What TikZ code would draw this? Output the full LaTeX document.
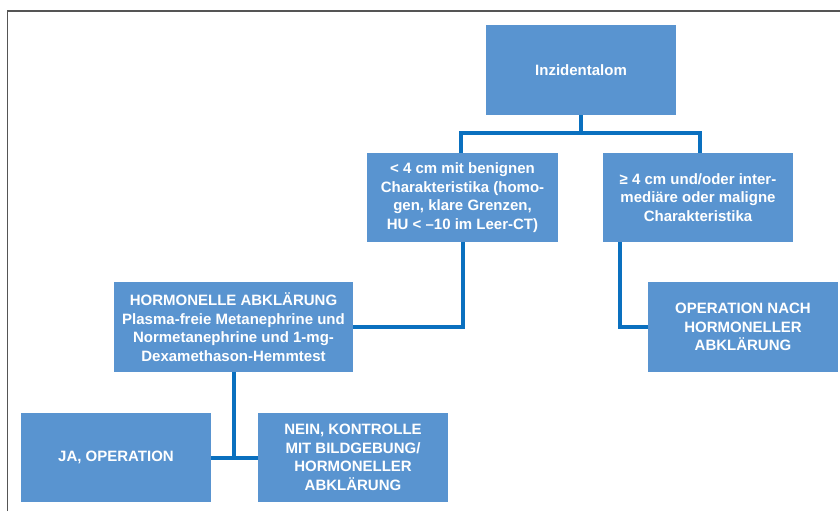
\documentclass[tikz,border=0pt]{standalone}
\usepackage{fontspec}
\setsansfont{Liberation Sans}
\definecolor{boxblue}{RGB}{89,148,208}
\definecolor{linkblue}{RGB}{10,112,191}
\definecolor{framegray}{RGB}{85,85,85}
\begin{document}
\begin{tikzpicture}[x=1pt,y=-1pt,
  box/.style={fill=boxblue,text=white,align=center,inner sep=0pt,
    minimum width=190pt,minimum height=89pt,
    font=\sffamily\bfseries\fontsize{15}{18.5}\selectfont},
  conn/.style={draw=linkblue,line width=4pt}]
\useasboundingbox (0,0) rectangle (840,511);
% frame
\draw[framegray,line width=1.5pt] (7.5,511) -- (7.5,11) -- (840,11);
% nodes
\node[box,minimum height=90pt] (inz) at (581,70) {Inzidentalom};
\node[box,minimum width=191pt] (small) at (462.5,197.5) {< 4 cm mit benignen\\Charakteristika (homo-\\gen, klare Grenzen,\\HU < –10 im Leer-CT)};
\node[box] (large) at (698,197.5) {≥ 4 cm und/oder inter-\\mediäre oder maligne\\Charakteristika};
\node[box,minimum width=239pt,minimum height=90pt] (horm) at (233.5,327) {HORMONELLE ABKLÄRUNG\\Plasma-freie Metanephrine und\\Normetanephrine und 1-mg-\\Dexamethason-Hemmtest};
\node[box,minimum height=90pt] (opnach) at (743,327) {OPERATION NACH\\HORMONELLER\\ABKLÄRUNG};
\node[box] (ja) at (116,457.5) {JA, OPERATION};
\node[box] (nein) at (353,457.5) {NEIN, KONTROLLE\\MIT BILDGEBUNG/\\HORMONELLER\\ABKLÄRUNG};
% connectors
\draw[conn] (inz.south) -- ++(0,18) -| ([xshift=-1.5pt]small.north);
\draw[conn] (inz.south) -- ++(0,18) -| ([xshift=2pt]large.north);
\draw[conn] (small.south) |- (horm.east);
\draw[conn] ([xshift=17pt]large.south west) |- (opnach.west);
\draw[conn] (horm.south) -- (horm.south |- ja.east);
\draw[conn] (ja.east) -- (nein.west);
\end{tikzpicture}
\end{document}
